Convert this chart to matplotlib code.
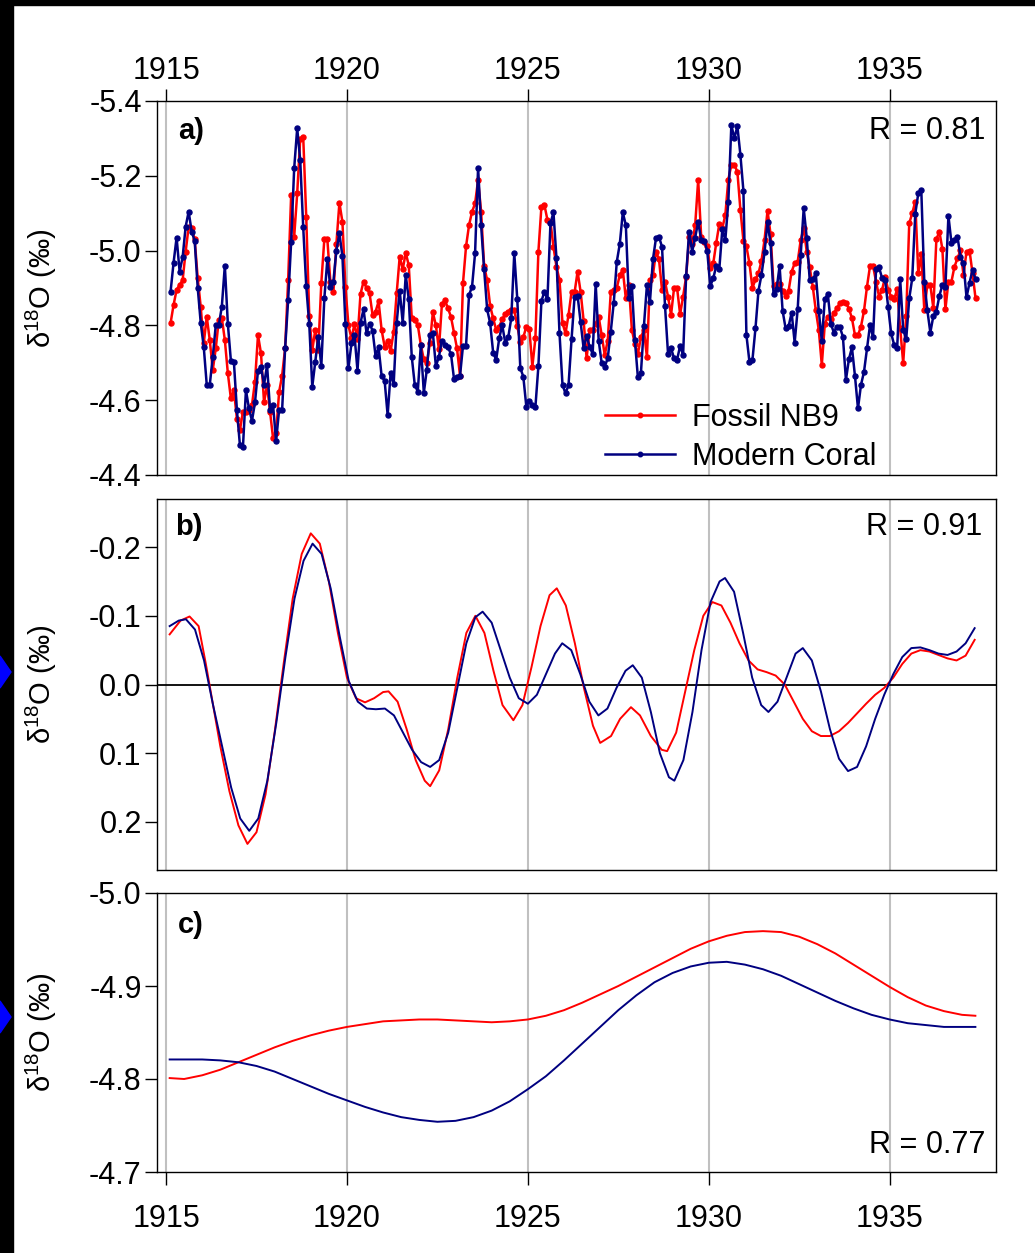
import numpy as np
import matplotlib
matplotlib.use('Agg')
import matplotlib.pyplot as plt
from matplotlib.patches import Rectangle, Polygon

plt.rcParams['font.family'] = ['Liberation Sans', 'DejaVu Sans']
plt.rcParams['mathtext.fontset'] = 'custom'
plt.rcParams['mathtext.rm'] = 'Liberation Sans'

# monthly d18O, panel a (starts Feb 1915)
start_year = 1915.125
fossil = [-4.806, -4.855, -4.895, -4.908, -4.921, -4.997, -5.064, -5.06, -5.03, -4.926,
          -4.85, -4.752, -4.823, -4.761, -4.681, -4.739, -4.815, -4.82, -4.761, -4.672,
          -4.605, -4.627, -4.551, -4.52, -4.569, -4.569, -4.574, -4.587, -4.65, -4.774,
          -4.725, -4.594, -4.64, -4.569, -4.498, -4.511, -4.622, -4.666, -4.739, -4.921,
          -5.149, -5.037, -5.153, -5.298, -5.303, -5.09, -4.825, -4.734, -4.788, -4.734,
          -4.914, -5.03, -5.03, -4.917, -4.888, -5.018, -5.128, -5.077, -4.902, -4.8,
          -4.765, -4.804, -4.764, -4.884, -4.917, -4.9, -4.886, -4.828, -4.837, -4.864,
          -4.788, -4.743, -4.759, -4.732, -4.783, -4.886, -4.984, -4.95, -4.994, -4.961,
          -4.819, -4.814, -4.801, -4.748, -4.709, -4.699, -4.752, -4.835, -4.80, -4.736,
          -4.857, -4.868, -4.846, -4.823, -4.781, -4.739, -4.665, -4.914, -5.011, -5.068,
          -5.104, -5.126, -5.189, -5.104, -4.959, -4.921, -4.852, -4.819, -4.788, -4.797,
          -4.816, -4.83, -4.837, -4.841, -4.841, -4.798, -4.756, -4.768, -4.797, -4.79,
          -4.69, -4.765, -4.997, -5.117, -5.122, -5.082, -5.077, -5.01, -4.957, -4.921,
          -4.806, -4.779, -4.828, -4.89, -4.888, -4.944, -4.89, -4.813, -4.712, -4.789,
          -4.789, -4.804, -4.823, -4.774, -4.721, -4.759, -4.888, -4.895, -4.9, -4.935,
          -4.948, -4.872, -4.908, -4.789, -4.75, -4.724, -4.768, -4.788, -4.715, -4.921,
          -4.935, -4.997, -4.977, -4.895, -4.917, -4.877, -4.828, -4.9, -4.9, -4.83,
          -4.877, -4.93, -5.037, -5.018, -5.068, -5.189, -5.037, -5.024, -5.011, -4.953,
          -4.966, -5.021, -5.071, -5.06, -5.095, -5.19, -5.229, -5.229, -5.211, -5.109,
          -5.027, -5.011, -4.966, -4.9, -4.923, -4.939, -4.973, -5.028, -5.107, -5.044,
          -4.905, -4.911, -4.911, -4.893, -4.879, -4.893, -4.944, -4.966, -4.97, -5.028,
          -5.06, -4.997, -4.955, -4.904, -4.841, -4.788, -4.694, -4.804, -4.823, -4.816,
          -4.832, -4.846, -4.859, -4.863, -4.86, -4.845, -4.819, -4.774, -4.774, -4.797,
          -4.839, -4.904, -4.959, -4.959, -4.917, -4.877, -4.895, -4.93, -4.895, -4.877,
          -4.87, -4.897, -4.792, -4.699, -4.825, -5.073, -5.1, -5.131, -4.939, -4.991,
          -4.841, -4.908, -4.908, -4.846, -5.03, -5.051, -5.004, -4.843, -4.917, -4.917,
          -4.957, -4.979, -5.001, -4.935, -4.997, -5.0, -4.939, -4.872]
modern = [-4.89, -4.968, -5.035, -4.944, -4.982, -5.064, -5.104, -5.051, -5.026, -4.901,
          -4.807, -4.743, -4.641, -4.641, -4.716, -4.801, -4.801, -4.85, -4.96, -4.804,
          -4.706, -4.703, -4.574, -4.48, -4.474, -4.627, -4.578, -4.545, -4.594, -4.679,
          -4.69, -4.641, -4.694, -4.574, -4.587, -4.49, -4.574, -4.574, -4.739, -4.868,
          -5.024, -5.22, -5.327, -5.242, -5.062, -4.905, -4.803, -4.636, -4.703, -4.77,
          -4.691, -4.872, -4.977, -4.902, -4.917, -5.0, -5.046, -4.985, -4.804, -4.685,
          -4.752, -4.774, -4.679, -4.807, -4.843, -4.78, -4.805, -4.786, -4.718, -4.741,
          -4.665, -4.652, -4.56, -4.674, -4.643, -4.807, -4.893, -4.807, -4.935, -4.87,
          -4.716, -4.641, -4.623, -4.748, -4.62, -4.682, -4.774, -4.779, -4.691, -4.716,
          -4.759, -4.748, -4.741, -4.724, -4.658, -4.663, -4.665, -4.746, -4.746, -4.881,
          -4.904, -4.993, -5.222, -5.068, -4.95, -4.843, -4.806, -4.727, -4.708, -4.765,
          -4.801, -4.754, -4.768, -4.819, -4.993, -4.87, -4.686, -4.663, -4.583, -4.599,
          -4.587, -4.581, -4.691, -4.865, -4.89, -4.87, -5.073, -5.102, -4.979, -4.779,
          -4.641, -4.618, -4.641, -4.763, -4.877, -4.879, -4.81, -4.739, -4.772, -4.743,
          -4.724, -4.911, -4.759, -4.699, -4.69, -4.712, -4.783, -4.861, -4.97, -5.018,
          -5.102, -5.068, -4.872, -4.905, -4.761, -4.661, -4.672, -4.798, -4.908, -4.863,
          -4.977, -5.033, -5.037, -5.01, -4.852, -4.724, -4.739, -4.712, -4.708, -4.745,
          -4.721, -4.932, -5.051, -4.997, -5.035, -5.077, -5.028, -5.027, -5.0, -4.905,
          -4.926, -4.959, -4.95, -5.057, -5.028, -5.131, -5.336, -5.3, -5.333, -5.256,
          -5.16, -4.774, -4.703, -4.708, -4.792, -4.893, -4.935, -4.995, -5.077, -5.02,
          -4.884, -4.896, -4.959, -4.839, -4.792, -4.798, -4.834, -4.754, -4.843, -4.988,
          -5.113, -5.035, -4.921, -4.923, -4.939, -4.839, -4.759, -4.87, -4.884, -4.804,
          -4.781, -4.797, -4.795, -4.77, -4.654, -4.71, -4.741, -4.665, -4.578, -4.641,
          -4.676, -4.739, -4.801, -4.768, -4.95, -4.955, -4.926, -4.921, -4.85, -4.779,
          -4.748, -4.739, -4.923, -4.789, -4.763, -4.872, -4.926, -5.098, -5.153, -5.162,
          -4.917, -4.841, -4.781, -4.825, -4.837, -4.879, -4.908, -4.904, -5.093, -5.021,
          -5.028, -5.037, -4.984, -4.966, -4.875, -4.914, -4.948, -4.923]

# panel b, filtered anomalies
b_fossil_yr = [1915.1, 1915.4, 1915.65, 1915.9, 1916.1, 1916.3, 1916.5, 1916.75, 1917.0,
               1917.25, 1917.5, 1917.75, 1918.0, 1918.25, 1918.5, 1918.75, 1919.0, 1919.25,
               1919.5, 1919.75, 1920.0, 1920.25, 1920.5, 1920.75, 1921.0, 1921.15, 1921.4,
               1921.65, 1921.9, 1922.15, 1922.3, 1922.55, 1922.8, 1923.05, 1923.3, 1923.55,
               1923.8, 1924.05, 1924.3, 1924.6, 1924.85, 1925.1, 1925.35, 1925.6, 1925.8,
               1926.05, 1926.3, 1926.55, 1926.8, 1927.0, 1927.3, 1927.55, 1927.85, 1928.1,
               1928.4, 1928.7, 1928.85, 1929.1, 1929.35, 1929.6, 1929.85, 1930.1, 1930.35,
               1930.6, 1930.85, 1931.1, 1931.35, 1931.6, 1931.85, 1932.1, 1932.35, 1932.6,
               1932.85, 1933.1, 1933.35, 1933.6, 1933.85, 1934.1, 1934.35, 1934.6, 1934.85,
               1935.1, 1935.35, 1935.6, 1935.85, 1936.1, 1936.35, 1936.6, 1936.85, 1937.1,
               1937.35]
b_fossil = [-0.073, -0.093, -0.099, -0.085, -0.03, 0.03, 0.09, 0.155, 0.205,
            0.232, 0.215, 0.16, 0.07, -0.03, -0.125, -0.19, -0.22, -0.205,
            -0.15, -0.075, -0.01, 0.02, 0.026, 0.02, 0.011, 0.01, 0.025,
            0.065, 0.11, 0.14, 0.148, 0.125, 0.065, -0.01, -0.075, -0.1,
            -0.075, -0.02, 0.03, 0.052, 0.03, -0.025, -0.085, -0.13, -0.14,
            -0.115, -0.06, 0.005, 0.06, 0.085, 0.075, 0.05, 0.033, 0.045,
            0.075, 0.095, 0.097, 0.07, 0.01, -0.05, -0.1, -0.12, -0.115,
            -0.09, -0.06, -0.035, -0.022, -0.018, -0.013, 0.0, 0.025, 0.05,
            0.068, 0.075, 0.075, 0.068, 0.056, 0.042, 0.028, 0.015, 0.005,
            -0.01, -0.03, -0.045, -0.05, -0.048, -0.043, -0.038, -0.035, -0.042,
            -0.065]
b_modern_yr = [1915.1, 1915.35, 1915.55, 1915.8, 1916.05, 1916.3, 1916.55, 1916.8, 1917.05,
               1917.3, 1917.55, 1917.8, 1918.05, 1918.3, 1918.55, 1918.8, 1919.05, 1919.3,
               1919.55, 1919.8, 1920.05, 1920.3, 1920.55, 1920.8, 1921.05, 1921.3, 1921.55,
               1921.8, 1922.05, 1922.3, 1922.55, 1922.8, 1923.05, 1923.3, 1923.55, 1923.75,
               1924.0, 1924.25, 1924.5, 1924.75, 1925.0, 1925.25, 1925.5, 1925.75, 1925.95,
               1926.2, 1926.45, 1926.7, 1926.95, 1927.2, 1927.45, 1927.7, 1927.9, 1928.15,
               1928.4, 1928.65, 1928.9, 1929.05, 1929.3, 1929.55, 1929.8, 1930.05, 1930.3,
               1930.45, 1930.7, 1930.95, 1931.2, 1931.45, 1931.65, 1931.9, 1932.15, 1932.4,
               1932.6, 1932.85, 1933.1, 1933.35, 1933.6, 1933.85, 1934.1, 1934.35, 1934.6,
               1934.85, 1935.1, 1935.35, 1935.6, 1935.85, 1936.1, 1936.35, 1936.6, 1936.85,
               1937.1, 1937.35]
b_modern = [-0.085, -0.093, -0.095, -0.08, -0.035, 0.03, 0.09, 0.15, 0.195,
            0.213, 0.195, 0.14, 0.055, -0.04, -0.125, -0.18, -0.205, -0.19,
            -0.14, -0.07, -0.005, 0.025, 0.035, 0.036, 0.035, 0.045, 0.07,
            0.095, 0.113, 0.12, 0.11, 0.07, 0.005, -0.06, -0.098, -0.106,
            -0.09, -0.05, -0.01, 0.02, 0.028, 0.015, -0.015, -0.045, -0.06,
            -0.05, -0.015, 0.025, 0.045, 0.035, 0.005, -0.02, -0.028, -0.01,
            0.04, 0.1, 0.135, 0.14, 0.11, 0.04, -0.05, -0.12, -0.15,
            -0.155, -0.135, -0.075, -0.01, 0.03, 0.04, 0.025, -0.01, -0.045,
            -0.053, -0.035, 0.01, 0.065, 0.108, 0.126, 0.12, 0.09, 0.05,
            0.015, -0.015, -0.04, -0.053, -0.054, -0.05, -0.045, -0.043, -0.048,
            -0.06, -0.082]

# panel c, low-frequency component
c_yr = [1915.1, 1915.5, 1916.0, 1916.5, 1917.0, 1917.5, 1918.0, 1918.5, 1919.0, 1919.5,
        1920.0, 1920.5, 1921.0, 1921.5, 1922.0, 1922.5, 1923.0, 1923.5, 1924.0, 1924.5,
        1925.0, 1925.5, 1926.0, 1926.5, 1927.0, 1927.5, 1928.0, 1928.5, 1929.0, 1929.5,
        1930.0, 1930.5, 1931.0, 1931.5, 1932.0, 1932.5, 1933.0, 1933.5, 1934.0, 1934.5,
        1935.0, 1935.5, 1936.0, 1936.5, 1937.0, 1937.37]
c_fossil = [-4.801, -4.800, -4.804, -4.810, -4.818, -4.826, -4.834, -4.841, -4.847, -4.852,
            -4.856, -4.859, -4.862, -4.863, -4.864, -4.864, -4.863, -4.862, -4.861, -4.862,
            -4.864, -4.868, -4.874, -4.882, -4.891, -4.900, -4.910, -4.920, -4.930, -4.940,
            -4.948, -4.954, -4.958, -4.959, -4.958, -4.953, -4.945, -4.935, -4.923, -4.911,
            -4.899, -4.888, -4.879, -4.873, -4.869, -4.868]
c_modern = [-4.821, -4.821, -4.821, -4.820, -4.818, -4.814, -4.808, -4.800, -4.792, -4.784,
            -4.777, -4.770, -4.764, -4.759, -4.756, -4.754, -4.755, -4.759, -4.766, -4.776,
            -4.789, -4.803, -4.820, -4.838, -4.856, -4.874, -4.890, -4.904, -4.914, -4.921,
            -4.925, -4.926, -4.923, -4.918, -4.911, -4.902, -4.893, -4.884, -4.876, -4.869,
            -4.864, -4.860, -4.858, -4.856, -4.856, -4.856]

years_ticks = [1915, 1920, 1925, 1930, 1935]
red = '#ff0000'
navy = '#000080'
fs = 22

W, H = 1035, 1253
fig = plt.figure(figsize=(W / 100, H / 100), dpi=100)
fig.patch.set_facecolor('white')

left, right = 157 / W, 996 / W
def box(top, bottom):
    return [left, 1 - bottom / H, right - left, (bottom - top) / H]

ax1 = fig.add_axes(box(101, 475))
ax2 = fig.add_axes(box(499, 870))
ax3 = fig.add_axes(box(893, 1172))

t = start_year + np.arange(len(fossil)) / 12.0

ax1.plot(t, fossil, '-o', color=red, lw=1.8, ms=3.6, label='Fossil NB9', zorder=3)
ax1.plot(t, modern, '-o', color=navy, lw=1.8, ms=3.6, label='Modern Coral', zorder=4)
ax2.plot(b_fossil_yr, b_fossil, '-', color=red, lw=1.4, zorder=3)
ax2.plot(b_modern_yr, b_modern, '-', color=navy, lw=1.4, zorder=4)
ax2.axhline(0, color='black', lw=1.3, zorder=2)
ax3.plot(c_yr, c_fossil, '-', color=red, lw=1.4, zorder=3)
ax3.plot(c_yr, c_modern, '-', color=navy, lw=1.4, zorder=4)

ax1.set_ylim(-4.4, -5.4)
ax1.set_yticks([-5.4, -5.2, -5.0, -4.8, -4.6, -4.4])
ax1.set_yticklabels(['-5.4', '-5.2', '-5.0', '-4.8', '-4.6', '-4.4'])
ax2.set_ylim(0.27, -0.27)
ax2.set_yticks([-0.2, -0.1, 0.0, 0.1, 0.2])
ax2.set_yticklabels(['-0.2', '-0.1', '0.0', '0.1', '0.2'])
ax3.set_ylim(-4.7, -5.0)
ax3.set_yticks([-5.0, -4.9, -4.8, -4.7])
ax3.set_yticklabels(['-5.0', '-4.9', '-4.8', '-4.7'])

for ax in (ax1, ax2, ax3):
    ax.set_xlim(1914.75, 1937.94)
    ax.set_xticks(years_ticks)
    for yr in years_ticks:
        ax.axvline(yr, color='#c0c0c0', lw=1.5, zorder=1)
    for s in ax.spines.values():
        s.set_linewidth(1.0)
    ax.tick_params(axis='y', direction='out', length=9, width=1.0, labelsize=fs, pad=2)
    ax.set_ylabel('δ$^{18}$O (‰)', fontsize=21)
    ax.yaxis.set_label_coords(-0.117, 0.5)

ax1.tick_params(axis='x', top=True, bottom=False, labeltop=True, labelbottom=False,
                direction='out', length=9, width=1.0, labelsize=fs, pad=2)
ax2.tick_params(axis='x', top=False, bottom=False, labelbottom=False)
ax3.tick_params(axis='x', direction='out', length=9, width=1.0, labelsize=fs, pad=14)

ax1.text(0.025, 0.92, 'a)', transform=ax1.transAxes, fontsize=21, fontweight='bold', va='center')
ax1.text(0.987, 0.92, 'R = 0.81', transform=ax1.transAxes, fontsize=fs, ha='right', va='center')
ax2.text(0.022, 0.925, 'b)', transform=ax2.transAxes, fontsize=21, fontweight='bold', va='center')
ax2.text(0.984, 0.925, 'R = 0.91', transform=ax2.transAxes, fontsize=fs, ha='right', va='center')
ax3.text(0.025, 0.885, 'c)', transform=ax3.transAxes, fontsize=21, fontweight='bold', va='center')
ax3.text(0.987, 0.097, 'R = 0.77', transform=ax3.transAxes, fontsize=fs, ha='right', va='center')

ax1.legend(loc='lower left', bbox_to_anchor=(0.534, 0.008), frameon=False, fontsize=fs,
           handlelength=2.3, handletextpad=0.55, labelspacing=0.3, borderpad=0,
           borderaxespad=0, numpoints=1, markerscale=0.9)

# black frame strips and blue markers at the page edge
fig.patches.append(Rectangle((0, 1 - 5 / H), 1, 5 / H, transform=fig.transFigure,
                             color='black', zorder=0))
fig.patches.append(Rectangle((0, 0), 13 / W, 1, transform=fig.transFigure,
                             color='black', zorder=0))
for yc in (672, 1017):
    fig.patches.append(Polygon([(0, 1 - (yc - 16) / H), (11 / W, 1 - yc / H), (0, 1 - (yc + 16) / H)],
                               closed=True, transform=fig.transFigure, color='#0000ff', zorder=1))

plt.savefig('out.png', dpi=100)
